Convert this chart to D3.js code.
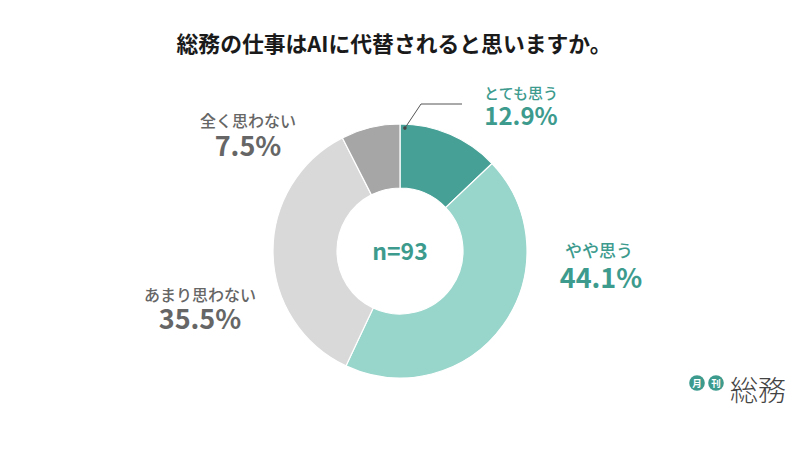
<!DOCTYPE html>
<html><head><meta charset="utf-8">
<script src="https://cdn.jsdelivr.net/npm/d3@7"></script>
<style>body{margin:0;background:#fff}svg{display:block}text{font-family:"Noto Sans CJK JP","Noto Sans",sans-serif}</style>
</head><body><svg id="c" width="800" height="450"></svg>
<script>
const title = "総務の仕事はAIに代替されると思いますか。";
const categories = ["とても思う","やや思う","あまり思わない","全く思わない"];
const values = [12.9, 44.1, 35.5, 7.5];
const colors = ["#47a096","#98d5cb","#d9d9d9","#a6a6a6"];
const textColors = ["#3d9b8e","#3d9b8e","#666666","#666666"];
const sampleLabel = "n=93";
const labelPos = [[521,99],[599,257],[200,301],[248,127]];
const labelSize = [15,17,16,16];
const numberSize = [24,27,27,27];
const numberOffset = [26,31,28,29];

const svg = d3.select("#c");
svg.append("text").attr("x",394).attr("y",52).attr("text-anchor","middle")
  .attr("font-size",21.8).attr("font-weight",700).attr("fill","#1a1a1a").text(title);

const cx=400, cy=251, R=127, r=63;
const pie = d3.pie().sort(null).value(d=>d)(values);
const arc = d3.arc().innerRadius(r).outerRadius(R);
const g = svg.append("g").attr("transform",`translate(${cx},${cy})`);
g.selectAll("path").data(pie).join("path").attr("d",arc)
  .attr("fill",(d,i)=>colors[i]).attr("stroke","#fff").attr("stroke-width",1.2);

g.append("text").attr("x",0).attr("y",9).attr("text-anchor","middle")
  .attr("font-size",23).attr("font-weight",700).attr("fill","#3d9b8e").text(sampleLabel);

// leader line for first slice
const a0 = pie[0].startAngle + 0.04;
const px = cx + Math.sin(a0)*(R-4), py = cy - Math.cos(a0)*(R-4);
svg.append("polyline").attr("points",`${px},${py} 421,104 462,104`)
  .attr("fill","none").attr("stroke","#555").attr("stroke-width",1);
svg.append("circle").attr("cx",px).attr("cy",py).attr("r",1.8).attr("fill","#444");

categories.forEach((c,i)=>{
  const [x,y]=labelPos[i];
  const t = svg.append("text").attr("text-anchor","middle").attr("fill",textColors[i]);
  t.append("tspan").attr("x",x).attr("y",y)
    .attr("font-size",labelSize[i]).attr("font-weight",500).text(c);
  t.append("tspan").attr("x",x+(i===1?2:0)).attr("y",y+numberOffset[i])
    .attr("font-size",numberSize[i]).attr("font-weight",700)
    .text(d3.format(".1f")(values[i])+"%");
});

// logo
const logo = svg.append("g");
[["月",697],["刊",716]].forEach(([t,x])=>{
  logo.append("circle").attr("cx",x).attr("cy",383).attr("r",7.8).attr("fill","#3d9b8e");
  logo.append("text").attr("x",x).attr("y",386.5).attr("text-anchor","middle")
    .attr("font-size",9.5).attr("font-weight",700).attr("fill","#fff").text(t);
});
logo.append("text").attr("x",730).attr("y",401).attr("font-size",28).attr("font-weight",300)
  .attr("fill","#444").text("総務");
</script></body></html>
